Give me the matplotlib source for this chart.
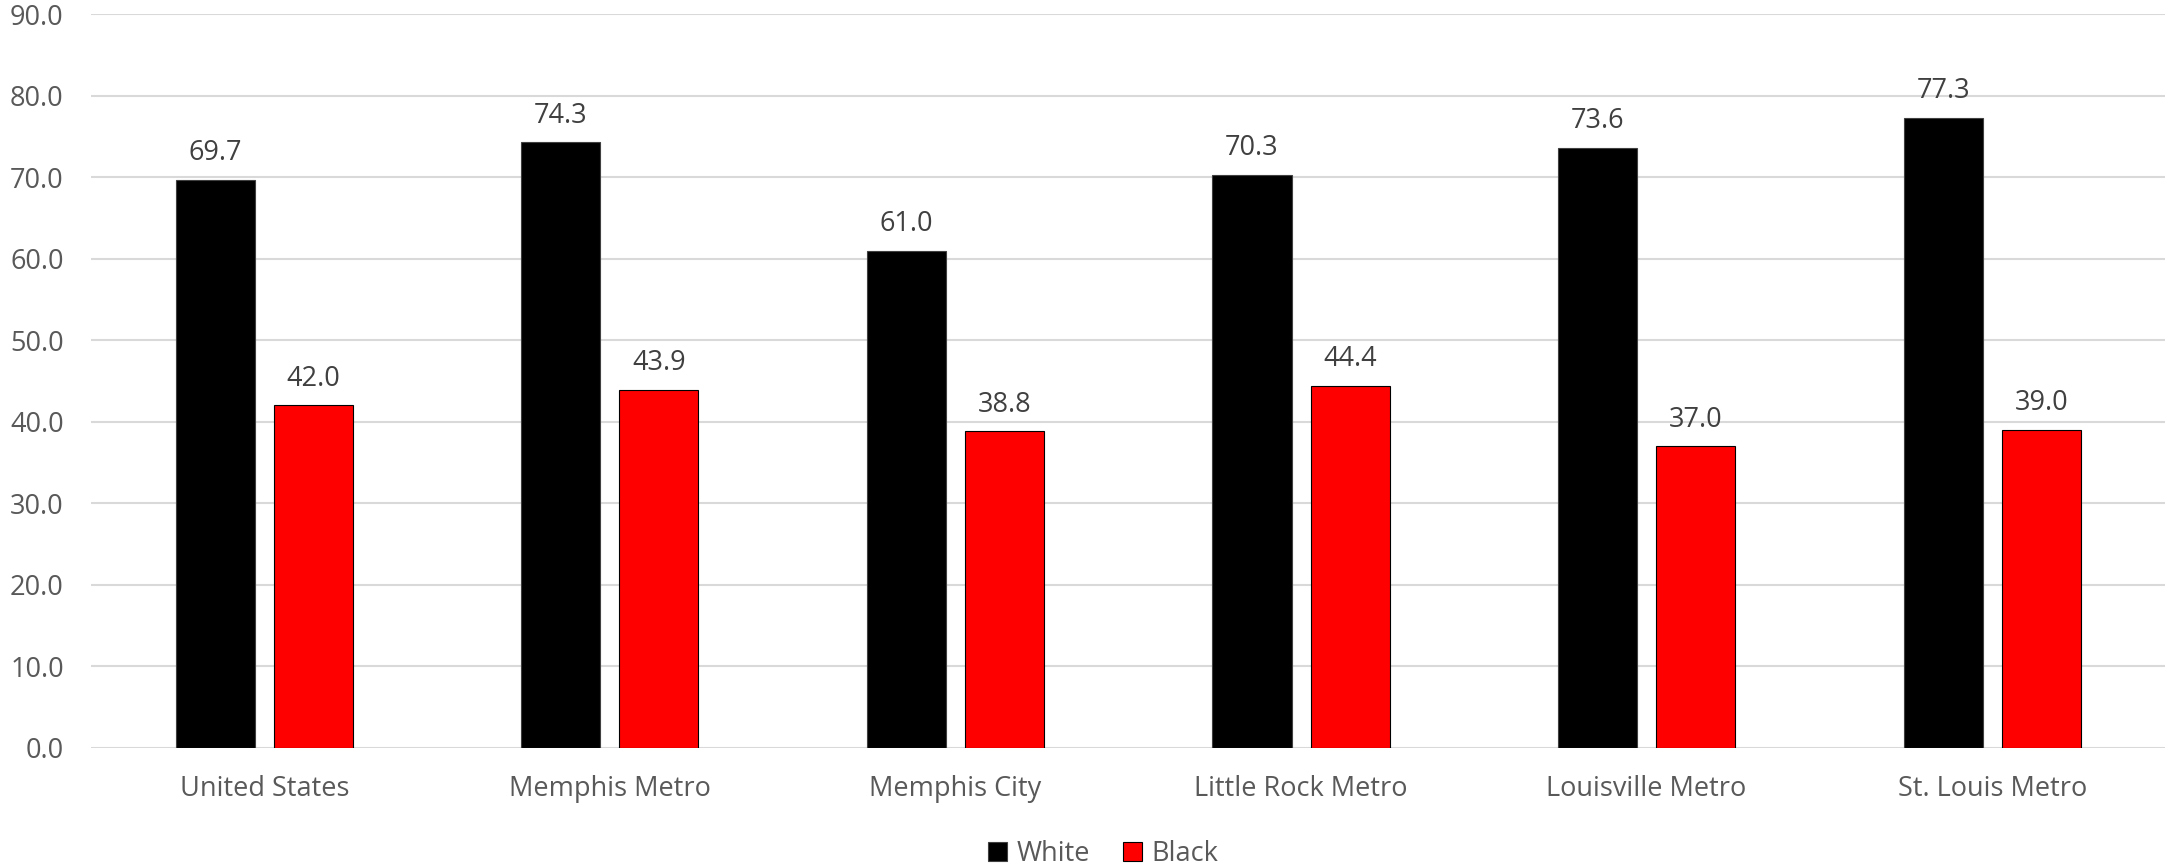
import matplotlib.pyplot as plt
import numpy as np

# categories and the two series
places = ['United States', 'Memphis Metro', 'Memphis City',
          'Little Rock Metro', 'Louisville Metro', 'St. Louis Metro']
white = [69.7, 74.3, 61.0, 70.3, 73.6, 77.3]
black = [42.0, 43.9, 38.8, 44.4, 37.0, 39.0]
yticks = [0, 10, 20, 30, 40, 50, 60, 70, 80, 90]

plt.rcParams['font.family'] = ['Open Sans', 'DejaVu Sans']

fig = plt.figure(figsize=(21.68, 8.65), dpi=100)
ax = fig.add_axes([0.0422, 0.1356, 0.9564, 0.848])

x = np.arange(len(places))
w = 0.229
off = (w + 0.055) / 2

b1 = ax.bar(x - off, white, w, color='black', edgecolor='#404040',
            linewidth=0.8, label='White', zorder=3)
b2 = ax.bar(x + off, black, w, color='#ff0000', edgecolor='black',
            linewidth=0.8, label='Black', zorder=3)

# value labels above each bar
for bars, vals in [(b1, white), (b2, black)]:
    for rect, v in zip(bars, vals):
        ax.annotate(f'{v:.1f}', (rect.get_x() + rect.get_width() / 2, v),
                    xytext=(0, 9), textcoords='offset points',
                    ha='center', va='bottom', fontsize=19.5, color='#404040')

ax.set_xlim(-0.5, len(places) - 0.5)
ax.set_ylim(0, 90)
ax.set_yticks(yticks)
ax.set_yticklabels([f'{t:.1f}' for t in yticks])
ax.set_xticks(x)
ax.set_xticklabels(places)
ax.tick_params(axis='both', length=0, labelsize=19.5, colors='#595959')
ax.tick_params(axis='x', pad=20)
ax.tick_params(axis='y', pad=20)

ax.yaxis.grid(True, color='#d9d9d9', linewidth=1.5, zorder=0)
for s in ax.spines.values():
    s.set_visible(False)

ax.legend(loc='center', bbox_to_anchor=(0.488, -0.145), ncol=2, frameon=False,
          fontsize=19.5, labelcolor='#595959', handlelength=0.7,
          handleheight=0.7, handletextpad=0.35, columnspacing=1.2)

fig.savefig('out.png', dpi=100, facecolor='white')
